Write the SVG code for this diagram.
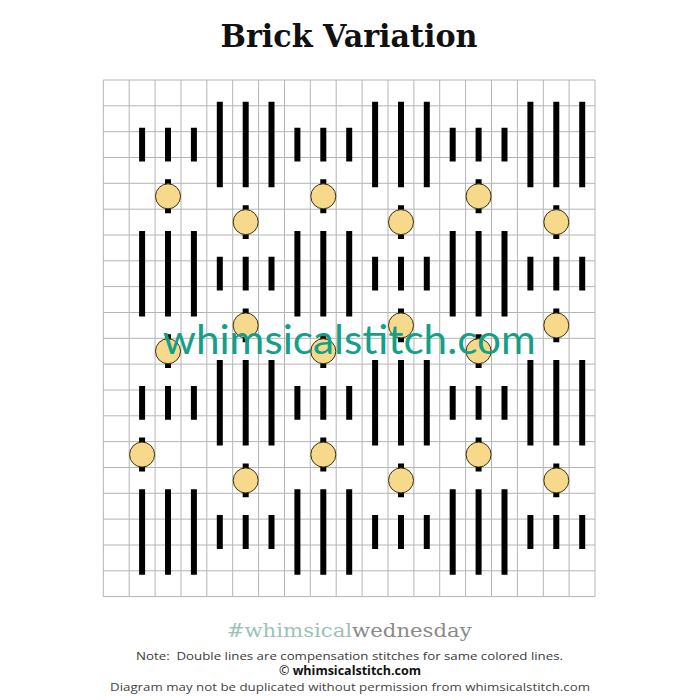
<svg xmlns="http://www.w3.org/2000/svg" width="700" height="700" viewBox="0 0 700 700">
<style>
.grid{stroke:#b4b4b4;stroke-width:1;fill:none}
.st{stroke:#000;stroke-width:6;stroke-linecap:butt}
.bead{fill:#F6D98A;stroke:#3b2f12;stroke-width:1}
.title{font-family:"DejaVu Serif","Liberation Serif",serif;font-weight:bold;font-size:31px;fill:#111}
.wm{font-family:Lato,"Open Sans","Liberation Sans",sans-serif;font-weight:400;font-size:40px;fill:#149f88}
.tag{font-family:"DejaVu Serif","Liberation Serif",serif;font-size:19px}
.note{font-family:"Open Sans","Liberation Sans",sans-serif;font-size:11.5px;fill:#3a3a3a}
</style>
<rect width="700" height="700" fill="#fff"/>
<text class="title" x="220.5" y="46.5" textLength="257" lengthAdjust="spacingAndGlyphs">Brick Variation</text>
<g id="grid" class="grid">
<path d="M103.3 80V596.6M129.2 80V596.6M155.1 80V596.6M181 80V596.6M206.8 80V596.6M232.7 80V596.6M258.6 80V596.6M284.5 80V596.6M310.3 80V596.6M336.2 80V596.6M362.1 80V596.6M388 80V596.6M413.9 80V596.6M439.7 80V596.6M465.6 80V596.6M491.5 80V596.6M517.4 80V596.6M543.3 80V596.6M569.1 80V596.6M595 80V596.6"/>
<path d="M103.3 80H595M103.3 105.8H595M103.3 131.7H595M103.3 157.5H595M103.3 183.3H595M103.3 209.2H595M103.3 235H595M103.3 260.8H595M103.3 286.6H595M103.3 312.5H595M103.3 338.3H595M103.3 364.1H595M103.3 390H595M103.3 415.8H595M103.3 441.6H595M103.3 467.5H595M103.3 493.3H595M103.3 519.1H595M103.3 545H595M103.3 570.8H595M103.3 596.6H595"/>
</g>
<g id="stitches" class="st">
<!-- group A columns: 1-3, 7-9, 13-15 -->
<path d="M142.1 127.7V161.5M168 127.7V161.5M193.9 127.7V161.5M297.4 127.7V161.5M323.3 127.7V161.5M349.2 127.7V161.5M452.7 127.7V161.5M478.6 127.7V161.5M504.5 127.7V161.5"/>
<path d="M142.1 231V316.5M168 231V316.5M193.9 231V316.5M297.4 231V316.5M323.3 231V316.5M349.2 231V316.5M452.7 231V316.5M478.6 231V316.5M504.5 231V316.5"/>
<path d="M142.1 386V419.8M168 386V419.8M193.9 386V419.8M297.4 386V419.8M323.3 386V419.8M349.2 386V419.8M452.7 386V419.8M478.6 386V419.8M504.5 386V419.8"/>
<path d="M142.1 489.3V574.8M168 489.3V574.8M193.9 489.3V574.8M297.4 489.3V574.8M323.3 489.3V574.8M349.2 489.3V574.8M452.7 489.3V574.8M478.6 489.3V574.8M504.5 489.3V574.8"/>
<!-- group B columns: 4-6, 10-12, 16-18 -->
<path d="M219.8 101.8V187.3M245.7 101.8V187.3M271.5 101.8V187.3M375.1 101.8V187.3M401 101.8V187.3M426.8 101.8V187.3M530.4 101.8V187.3M556.3 101.8V187.3M582.2 101.8V187.3"/>
<path d="M219.8 256.8V290.6M245.7 256.8V290.6M271.5 256.8V290.6M375.1 256.8V290.6M401 256.8V290.6M426.8 256.8V290.6M530.4 256.8V290.6M556.3 256.8V290.6M582.2 256.8V290.6"/>
<path d="M219.8 360.1V445.6M245.7 360.1V445.6M271.5 360.1V445.6M375.1 360.1V445.6M401 360.1V445.6M426.8 360.1V445.6M530.4 360.1V445.6M556.3 360.1V445.6M582.2 360.1V445.6"/>
<path d="M219.8 515.1V549M245.7 515.1V549M271.5 515.1V549M375.1 515.1V549M401 515.1V549M426.8 515.1V549M530.4 515.1V549M556.3 515.1V549M582.2 515.1V549"/>
<!-- stitches under beads -->
<path d="M168 179.3V213.2M323.3 179.3V213.2M478.6 179.3V213.2M168 334.3V368.1M323.3 334.3V368.1M478.6 334.3V368.1M142.1 437.6V471.5M323.3 437.6V471.5M478.6 437.6V471.5"/>
<path d="M245.7 205.2V239M401 205.2V239M556.3 205.2V239M245.7 308.5V342.3M401 308.5V342.3M556.3 308.5V342.3M245.7 463.5V497.3M401 463.5V497.3M556.3 463.5V497.3"/>
</g>
<g id="beads">
<g id="bead-1"><circle class="bead" cx="168" cy="196.3" r="12.5"/></g>
<g id="bead-2"><circle class="bead" cx="323.3" cy="196.3" r="12.5"/></g>
<g id="bead-3"><circle class="bead" cx="478.6" cy="196.3" r="12.5"/></g>
<g id="bead-4"><circle class="bead" cx="245.7" cy="222.1" r="12.5"/></g>
<g id="bead-5"><circle class="bead" cx="401" cy="222.1" r="12.5"/></g>
<g id="bead-6"><circle class="bead" cx="556.3" cy="222.1" r="12.5"/></g>
<g id="bead-7"><circle class="bead" cx="245.7" cy="325.4" r="12.5"/></g>
<g id="bead-8"><circle class="bead" cx="401" cy="325.4" r="12.5"/></g>
<g id="bead-9"><circle class="bead" cx="556.3" cy="325.4" r="12.5"/></g>
<g id="bead-10"><circle class="bead" cx="168" cy="351.2" r="12.5"/></g>
<g id="bead-11"><circle class="bead" cx="323.3" cy="351.2" r="12.5"/></g>
<g id="bead-12"><circle class="bead" cx="478.6" cy="351.2" r="12.5"/></g>
<g id="bead-13"><circle class="bead" cx="142.1" cy="454.6" r="12.5"/></g>
<g id="bead-14"><circle class="bead" cx="323.3" cy="454.6" r="12.5"/></g>
<g id="bead-15"><circle class="bead" cx="478.6" cy="454.6" r="12.5"/></g>
<g id="bead-16"><circle class="bead" cx="245.7" cy="480.4" r="12.5"/></g>
<g id="bead-17"><circle class="bead" cx="401" cy="480.4" r="12.5"/></g>
<g id="bead-18"><circle class="bead" cx="556.3" cy="480.4" r="12.5"/></g>
</g>
<text class="wm" x="162.7" y="353.5" textLength="373" lengthAdjust="spacingAndGlyphs">whimsicalstitch.com</text>
<text class="tag" x="226.7" y="637.3" textLength="245" lengthAdjust="spacingAndGlyphs"><tspan fill="#9cc2b7">#whimsical</tspan><tspan fill="#8a8a8a">wednesday</tspan></text>
<text class="note" x="136" y="659.5" textLength="427" lengthAdjust="spacingAndGlyphs" xml:space="preserve">Note:  Double lines are compensation stitches for same colored lines.</text>
<text class="note" x="279" y="674.5" style="font-size:12.5px;fill:#111">© <tspan font-weight="bold">whimsicalstitch.com</tspan></text>
<text class="note" x="110" y="690.7" textLength="480" lengthAdjust="spacingAndGlyphs" style="fill:#444">Diagram may not be duplicated without permission from whimsicalstitch.com</text>
</svg>
